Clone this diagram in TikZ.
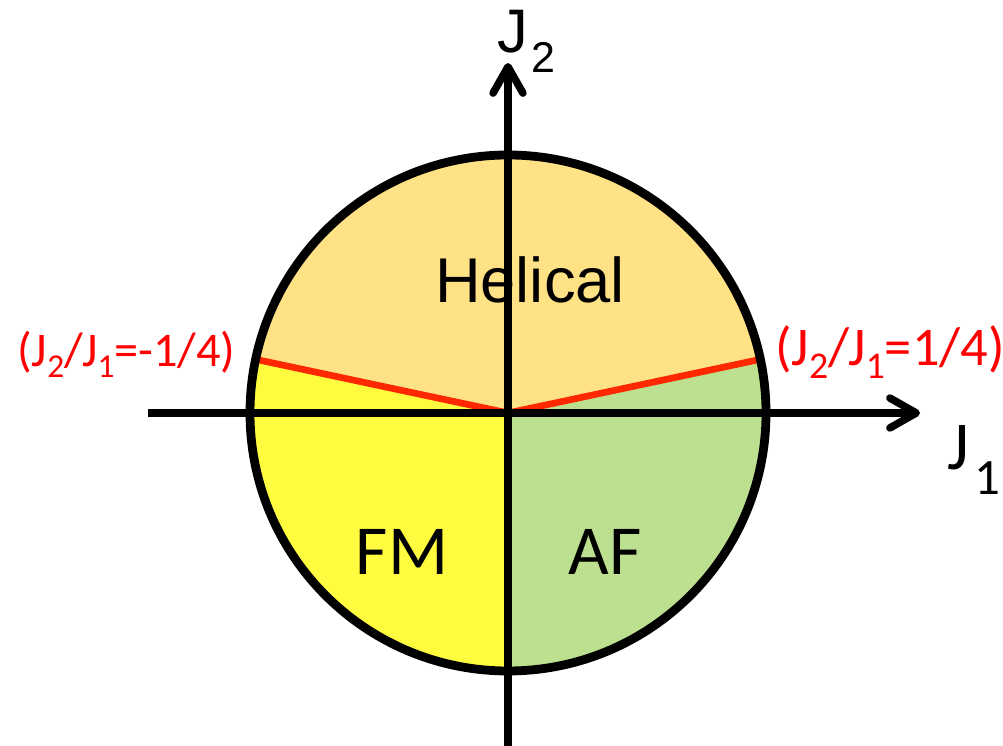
\documentclass[tikz,border=0pt]{standalone}
\usepackage{fontspec}
\setmainfont{Liberation Sans}
\newfontfamily\calib{Carlito}
\usetikzlibrary{arrows.meta}
\definecolor{helicalcol}{RGB}{255,226,134}
\definecolor{fmcol}{RGB}{255,252,64}
\definecolor{afcol}{RGB}{188,224,143}
\definecolor{bordercol}{RGB}{255,40,0}
\newcommand\lowidx[3]{\raisebox{-#2}{\fontsize{#1}{#1}\selectfont #3}}

\begin{document}
\begin{tikzpicture}[x=0.02cm, y=0.02cm,
      axis/.style={line width=4.3pt, -{Straight Barb[length=15pt, width=17pt, round]}},
      boundary/.style={line width=3.8pt, draw=bordercol},
      phase/.style={inner sep=0pt, anchor=base, font=\calib\fontsize{40pt}{40pt}\selectfont},
      ratio/.style={inner sep=0pt, anchor=base west, text=red, font=\calib\fontsize{27.5pt}{27.5pt}\selectfont}]
    \useasboundingbox (0,0) rectangle (1003,746);
    \coordinate (O) at (508,333);
    \path (O) ++(12:258) coordinate (pR);
    \path (O) ++(168:258) coordinate (pL);
    \coordinate (xs) at (148,333);
    \coordinate (xe) at (920,333);
    \coordinate (ys) at (508,0);
    \coordinate (ye) at (508,683);
    % phase regions
    \fill[helicalcol] (O) -- (pR) arc[start angle=12, end angle=168, radius=258] -- cycle;
    \fill[fmcol] (O) -- (pL) arc[start angle=168, end angle=270, radius=258] -- cycle;
    \fill[afcol] (O) -- ++(270:258) arc[start angle=270, end angle=372, radius=258] -- cycle;
    \node[inner sep=0pt, anchor=base, font=\fontsize{36pt}{36pt}\selectfont] (hel) at (530,443) {Helical};
    \node[phase] (fm) at (402,171) {FM};
    \node[phase] (af) at (605,171) {AF};
    \draw[boundary] (pL) -- (O) -- (pR);
    \draw[axis] (xs) -- (xe);
    \draw[axis] (ys) -- (ye);
    \draw[line width=5pt] (O) circle[radius=258];
    % axis labels
    \node[inner sep=0pt, anchor=base west, font=\fontsize{35pt}{35pt}\selectfont] (jtwo) at (497,693) {J\hspace{2pt}\lowidx{24.5pt}{11pt}{2}};
    \node[inner sep=0pt, anchor=base west, font=\calib\fontsize{39pt}{39pt}\selectfont] (jone) at (947,276) {J\hspace{3pt}\lowidx{29pt}{14pt}{1}};
    \node[ratio] (lneg) at (17,379) {(J\lowidx{19pt}{6pt}{2}/J\lowidx{19pt}{6pt}{1}=-1/4)};
    \node[ratio, font=\calib\fontsize{31pt}{31pt}\selectfont] (lpos) at (775,380) {(J\lowidx{21.5pt}{7pt}{2}/J\lowidx{21.5pt}{7pt}{1}=1/4)};
  \end{tikzpicture}
\end{document}
